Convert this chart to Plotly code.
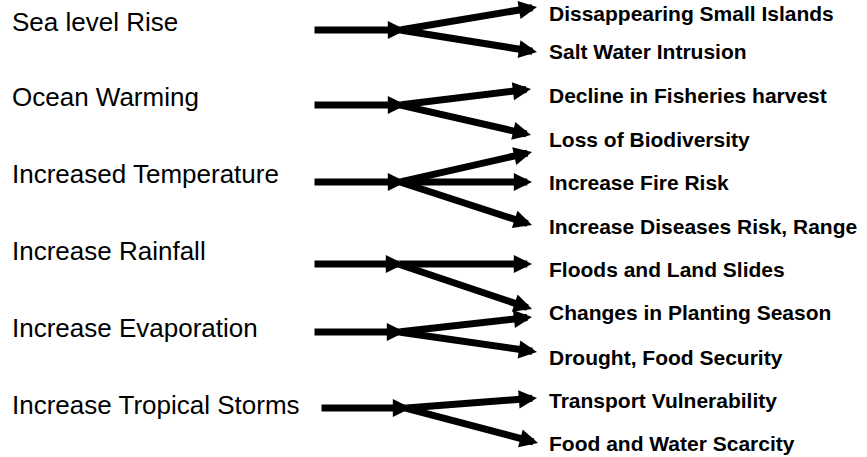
import plotly.graph_objects as go

# ---- data ----
causes = ["Sea level Rise", "Ocean Warming", "Increased Temperature",
          "Increase Rainfall", "Increase Evaporation", "Increase Tropical Storms"]
effects = ["Dissappearing Small Islands", "Salt Water Intrusion",
           "Decline in Fisheries harvest", "Loss of Biodiversity",
           "Increase Fire Risk", "Increase Diseases Risk, Range",
           "Floods and Land Slides", "Changes in Planting Season",
           "Drought, Food Security", "Transport Vulnerability",
           "Food and Water Scarcity"]
link_cause = [0, 0, 1, 1, 2, 2, 2, 3, 3, 4, 4, 5, 5]
link_effect = [0, 1, 2, 3, 3, 4, 5, 6, 7, 7, 8, 9, 10]

# ---- layout geometry (pixel-like axis units) ----
cause_label_x = 10
cause_label_y = [22, 97, 174, 251, 328, 405]
stem_y = [30, 105, 182, 264, 332, 408]
stem_x0 = [313, 313, 313, 313, 313, 320]
junction_x = [406, 406, 406, 404, 405, 411]
effect_label_x = 547
effect_label_y = [13.5, 51.5, 95.5, 139, 182.5, 226, 269.5, 312.5, 357.5, 400.5, 443.5]
tip_x = [537, 537, 531, 531, 532, 532, 532, 532, 532, 532, 537, 537, 538]
tip_y = [7, 52, 89, 135, 152, 182, 225, 264, 309, 317, 352, 398, 443]

LINE_W = 7
HEAD_SIZE = 0.52

fig = go.Figure()
# invisible trace to establish axes
fig.add_trace(go.Scatter(x=[0, 867], y=[0, 457], mode="markers",
                         marker=dict(opacity=0), hoverinfo="skip", showlegend=False))

annotations = []
# cause labels
for name, y in zip(causes, cause_label_y):
    annotations.append(dict(x=cause_label_x, y=y, xref="x", yref="y", text=name,
                            showarrow=False, xanchor="left", yanchor="middle",
                            font=dict(family="Arial, Liberation Sans, sans-serif",
                                      size=26, color="black")))
# effect labels
for name, y in zip(effects, effect_label_y):
    annotations.append(dict(x=effect_label_x, y=y, xref="x", yref="y",
                            text="<b>" + name + "</b>",
                            showarrow=False, xanchor="left", yanchor="middle",
                            font=dict(family="Arial, Liberation Sans, sans-serif",
                                      size=21, color="black")))

arrow_style = dict(xref="x", yref="y", axref="x", ayref="y", text="",
                   showarrow=True, arrowhead=2, arrowwidth=LINE_W,
                   arrowsize=HEAD_SIZE, arrowcolor="black", standoff=0)
# stems
for i in range(len(causes)):
    annotations.append(dict(x=junction_x[i], y=stem_y[i], ax=stem_x0[i], ay=stem_y[i],
                            **arrow_style))
# branches
for k, (c, e) in enumerate(zip(link_cause, link_effect)):
    annotations.append(dict(x=tip_x[k], y=tip_y[k], ax=junction_x[c] - 6, ay=stem_y[c],
                            **arrow_style))

fig.update_layout(
    width=867, height=457,
    margin=dict(l=0, r=0, t=0, b=0),
    paper_bgcolor="white", plot_bgcolor="white",
    xaxis=dict(range=[0, 867], visible=False, fixedrange=True),
    yaxis=dict(range=[457, 0], visible=False, fixedrange=True),
    annotations=annotations,
    showlegend=False,
)
fig.write_html("out.html", config={"displayModeBar": False},
               post_script="document.body.style.margin='0';document.body.style.overflow='hidden';")
